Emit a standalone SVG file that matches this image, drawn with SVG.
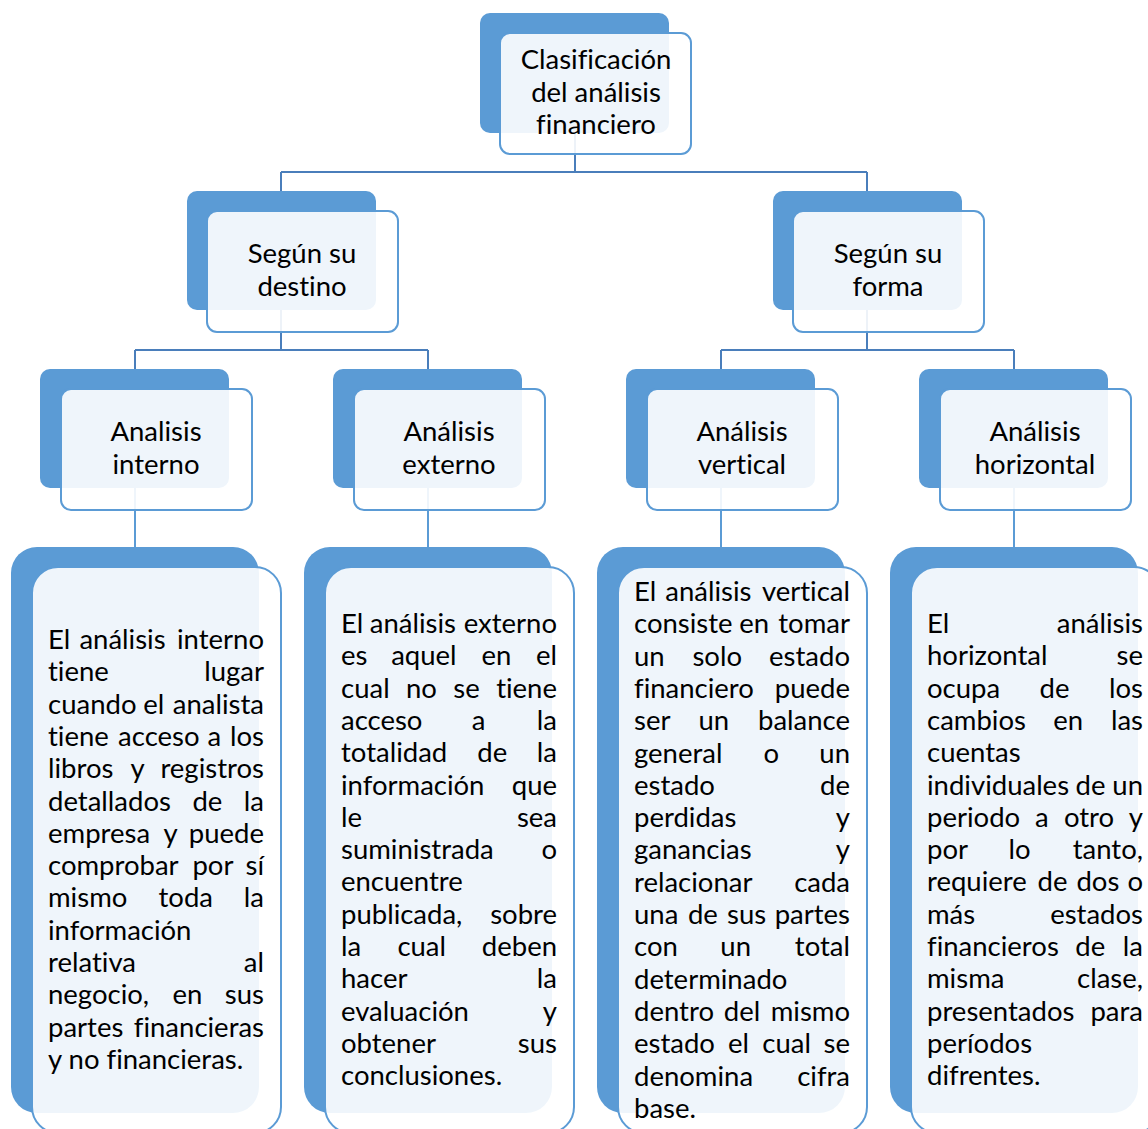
<svg xmlns="http://www.w3.org/2000/svg" width="1148" height="1129" viewBox="0 0 1148 1129">
<style>
.bk{fill:#5B9BD5}
.fr{fill:#FFFFFF;fill-opacity:0.9;stroke:#5B9BD5;stroke-width:2}
.c1{fill:none;stroke:#4A7EBB;stroke-width:2}
.c2{fill:none;stroke:#5B9BD5;stroke-width:2}
text{font-family:Lato,"Liberation Sans",sans-serif;font-size:27.5px;fill:#000;font-variant-ligatures:none;font-feature-settings:"liga" 0,"clig" 0,"dlig" 0}
.m{text-anchor:middle}
.r{text-anchor:end}
</style>
<rect width="1148" height="1129" fill="#FFFFFF"/>
<g id="connectors">
<path class="c1" d="M575 133V172M281 172H867M281 172V191M867 172V191"/>
<path class="c1" d="M281 310V350M135 350H428M135 350V369M428 350V369"/>
<path class="c1" d="M867 310V350M721 350H1014M721 350V369M1014 350V369"/>
<path class="c2" d="M135 488V547M428 488V547M721 488V547M1014 488V547"/>
</g>
<g id="node-root">
<rect class="bk" x="480" y="13" width="189" height="120" rx="10"/>
<rect class="fr" x="500" y="33" width="191" height="121" rx="10"/>
<text class="m" x="596" y="69">Clasificación</text>
<text class="m" x="596" y="102">del análisis</text>
<text class="m" x="596" y="134">financiero</text>
</g>
<g id="node-destino">
<rect class="bk" x="187" y="191" width="189" height="119" rx="10"/>
<rect class="fr" x="207" y="211" width="191" height="121" rx="10"/>
<text class="m" x="302" y="263">Según su</text>
<text class="m" x="302" y="296">destino</text>
</g>
<g id="node-forma">
<rect class="bk" x="773" y="191" width="189" height="119" rx="10"/>
<rect class="fr" x="793" y="211" width="191" height="121" rx="10"/>
<text class="m" x="888" y="263">Según su</text>
<text class="m" x="888" y="296">forma</text>
</g>
<g id="node-interno">
<rect class="bk" x="40" y="369" width="189" height="119" rx="10"/>
<rect class="fr" x="61" y="389" width="191" height="121" rx="10"/>
<text class="m" x="156" y="441">Analisis</text>
<text class="m" x="156" y="474">interno</text>
</g>
<g id="node-externo">
<rect class="bk" x="333" y="369" width="189" height="119" rx="10"/>
<rect class="fr" x="354" y="389" width="191" height="121" rx="10"/>
<text class="m" x="449" y="441">Análisis</text>
<text class="m" x="449" y="474">externo</text>
</g>
<g id="node-vertical">
<rect class="bk" x="626" y="369" width="189" height="119" rx="10"/>
<rect class="fr" x="647" y="389" width="191" height="121" rx="10"/>
<text class="m" x="742" y="441">Análisis</text>
<text class="m" x="742" y="474">vertical</text>
</g>
<g id="node-horizontal">
<rect class="bk" x="919" y="369" width="189" height="119" rx="10"/>
<rect class="fr" x="940" y="389" width="191" height="121" rx="10"/>
<text class="m" x="1035" y="441">Análisis</text>
<text class="m" x="1035" y="474">horizontal</text>
</g>
<g id="desc-interno">
<rect class="bk" x="11" y="547" width="248" height="566" rx="26"/>
<rect class="fr" x="32" y="567" width="249" height="566" rx="26"/>
<text y="649"><tspan x="48">El</tspan><tspan x="79.4">análisis</tspan></text><text class="r" x="264" y="649">interno</text>
<text x="48" y="681.3">tiene</text><text class="r" x="264" y="681.3">lugar</text>
<text y="713.6"><tspan x="48">cuando</tspan><tspan x="143.3">el</tspan></text><text class="r" x="264" y="713.6">analista</text>
<text y="745.9"><tspan x="48">tiene</tspan><tspan x="118.1">acceso</tspan><tspan x="207.4">a</tspan></text><text class="r" x="264" y="745.9">los</text>
<text y="778.2"><tspan x="48">libros</tspan><tspan x="130.4">y</tspan></text><text class="r" x="264" y="778.2">registros</text>
<text y="810.5"><tspan x="48">detallados</tspan><tspan x="192.4">de</tspan></text><text class="r" x="264" y="810.5">la</text>
<text y="842.8"><tspan x="48">empresa</tspan><tspan x="163.5">y</tspan></text><text class="r" x="264" y="842.8">puede</text>
<text y="875.1"><tspan x="48">comprobar</tspan><tspan x="192.4">por</tspan></text><text class="r" x="264" y="875.1">sí</text>
<text y="907.4"><tspan x="48">mismo</tspan><tspan x="158.5">toda</tspan></text><text class="r" x="264" y="907.4">la</text>
<text x="48" y="939.7">información</text>
<text x="48" y="972">relativa</text><text class="r" x="264" y="972">al</text>
<text y="1004.3"><tspan x="48">negocio,</tspan><tspan x="172.4">en</tspan></text><text class="r" x="264" y="1004.3">sus</text>
<text x="48" y="1036.6">partes</text><text class="r" x="264" y="1036.6">financieras</text>
<text x="48" y="1068.9">y no financieras.</text>
</g>
<g id="desc-externo">
<rect class="bk" x="304" y="547" width="248" height="566" rx="26"/>
<rect class="fr" x="325" y="567" width="249" height="566" rx="26"/>
<text y="633"><tspan x="341">El</tspan><tspan x="369.8">análisis</tspan></text><text class="r" x="557" y="633">externo</text>
<text y="665.3"><tspan x="341">es</tspan><tspan x="391.2">aquel</tspan><tspan x="481.5">en</tspan></text><text class="r" x="557" y="665.3">el</text>
<text y="697.6"><tspan x="341">cual</tspan><tspan x="406">no</tspan><tspan x="453.3">se</tspan></text><text class="r" x="557" y="697.6">tiene</text>
<text y="729.9"><tspan x="341">acceso</tspan><tspan x="471.8">a</tspan></text><text class="r" x="557" y="729.9">la</text>
<text y="762.2"><tspan x="341">totalidad</tspan><tspan x="477.3">de</tspan></text><text class="r" x="557" y="762.2">la</text>
<text x="341" y="794.5">información</text><text class="r" x="557" y="794.5">que</text>
<text x="341" y="826.8">le</text><text class="r" x="557" y="826.8">sea</text>
<text x="341" y="859.1">suministrada</text><text class="r" x="557" y="859.1">o</text>
<text x="341" y="891.4">encuentre</text>
<text x="341" y="923.7">publicada,</text><text class="r" x="557" y="923.7">sobre</text>
<text y="956"><tspan x="341">la</tspan><tspan x="397.4">cual</tspan></text><text class="r" x="557" y="956">deben</text>
<text x="341" y="988.3">hacer</text><text class="r" x="557" y="988.3">la</text>
<text x="341" y="1020.6">evaluación</text><text class="r" x="557" y="1020.6">y</text>
<text x="341" y="1052.9">obtener</text><text class="r" x="557" y="1052.9">sus</text>
<text x="341" y="1085.2">conclusiones.</text>
</g>
<g id="desc-vertical">
<rect class="bk" x="597" y="547" width="248" height="566" rx="26"/>
<rect class="fr" x="618" y="567" width="249" height="566" rx="26"/>
<text y="601"><tspan x="634">El</tspan><tspan x="665.3">análisis</tspan></text><text class="r" x="850" y="601">vertical</text>
<text y="633.3"><tspan x="634">consiste</tspan><tspan x="739.2">en</tspan></text><text class="r" x="850" y="633.3">tomar</text>
<text y="665.6"><tspan x="634">un</tspan><tspan x="692.4">solo</tspan></text><text class="r" x="850" y="665.6">estado</text>
<text x="634" y="697.9">financiero</text><text class="r" x="850" y="697.9">puede</text>
<text y="730.2"><tspan x="634">ser</tspan><tspan x="698.4">un</tspan></text><text class="r" x="850" y="730.2">balance</text>
<text y="762.5"><tspan x="634">general</tspan><tspan x="763.6">o</tspan></text><text class="r" x="850" y="762.5">un</text>
<text x="634" y="794.8">estado</text><text class="r" x="850" y="794.8">de</text>
<text x="634" y="827.1">perdidas</text><text class="r" x="850" y="827.1">y</text>
<text x="634" y="859.4">ganancias</text><text class="r" x="850" y="859.4">y</text>
<text x="634" y="891.7">relacionar</text><text class="r" x="850" y="891.7">cada</text>
<text y="924"><tspan x="634">una</tspan><tspan x="687.9">de</tspan><tspan x="727">sus</tspan></text><text class="r" x="850" y="924">partes</text>
<text y="956.3"><tspan x="634">con</tspan><tspan x="720.3">un</tspan></text><text class="r" x="850" y="956.3">total</text>
<text x="634" y="988.6">determinado</text>
<text y="1020.9"><tspan x="634">dentro</tspan><tspan x="723.8">del</tspan></text><text class="r" x="850" y="1020.9">mismo</text>
<text y="1053.2"><tspan x="634">estado</tspan><tspan x="727.9">el</tspan><tspan x="762.3">cual</tspan></text><text class="r" x="850" y="1053.2">se</text>
<text x="634" y="1085.5">denomina</text><text class="r" x="850" y="1085.5">cifra</text>
<text x="634" y="1117.8">base.</text>
</g>
<g id="desc-horizontal">
<rect class="bk" x="890" y="547" width="248" height="566" rx="26"/>
<rect class="fr" x="911" y="567" width="249" height="566" rx="26"/>
<text x="927" y="633">El</text><text class="r" x="1143" y="633">análisis</text>
<text x="927" y="665.3">horizontal</text><text class="r" x="1143" y="665.3">se</text>
<text y="697.6"><tspan x="927">ocupa</tspan><tspan x="1039.5">de</tspan></text><text class="r" x="1143" y="697.6">los</text>
<text y="729.9"><tspan x="927">cambios</tspan><tspan x="1053.3">en</tspan></text><text class="r" x="1143" y="729.9">las</text>
<text x="927" y="762.2">cuentas</text>
<text y="794.5"><tspan x="927">individuales</tspan><tspan x="1075.5">de</tspan></text><text class="r" x="1143" y="794.5">un</text>
<text y="826.8"><tspan x="927">periodo</tspan><tspan x="1035.1">a</tspan><tspan x="1063.9">otro</tspan></text><text class="r" x="1143" y="826.8">y</text>
<text y="859.1"><tspan x="927">por</tspan><tspan x="1008.5">lo</tspan></text><text class="r" x="1143" y="859.1">tanto,</text>
<text y="891.4"><tspan x="927">requiere</tspan><tspan x="1037.6">de</tspan><tspan x="1076.4">dos</tspan></text><text class="r" x="1143" y="891.4">o</text>
<text x="927" y="923.7">más</text><text class="r" x="1143" y="923.7">estados</text>
<text y="956"><tspan x="927">financieros</tspan><tspan x="1075.3">de</tspan></text><text class="r" x="1143" y="956">la</text>
<text x="927" y="988.3">misma</text><text class="r" x="1143" y="988.3">clase,</text>
<text x="927" y="1020.6">presentados</text><text class="r" x="1143" y="1020.6">para</text>
<text x="927" y="1052.9">períodos</text>
<text x="927" y="1085.2">difrentes.</text>
</g>
</svg>
